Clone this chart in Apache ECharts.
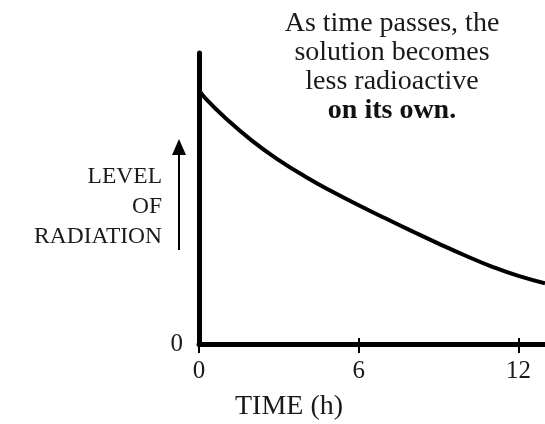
<!DOCTYPE html>
<html>
<head>
<meta charset="utf-8">
<script src="https://cdn.jsdelivr.net/npm/echarts@6/dist/echarts.min.js"></script>
<style>html,body{margin:0;padding:0;background:#fff}#c{width:545px;height:424px}</style>
</head>
<body>
<div id="c"></div>
<script>
// Time (h)
const times = [0, 0.25, 1, 2, 3, 4, 5, 6, 7, 8, 9, 10, 11, 12, 13];
// Level of radiation (arbitrary units, axis top = 100)
const levels = [87.3, 84.3, 77.6, 69.8, 63.2, 57.5, 52.4, 47.7, 43.2, 38.8, 34.5, 30.4, 26.6, 23.4, 20.9];
const xTicks = [0, 6, 12];
const yTicks = [0];
const noteLines = ['As time passes, the', 'solution becomes', 'less radioactive'];
const noteBold = 'on its own.';
const yLabelLines = ['LEVEL', 'OF', 'RADIATION'];
const xName = 'TIME (h)';

const FONT = '"Liberation Serif", "Times New Roman", serif';
const chart = echarts.init(document.getElementById('c'));
const pts = times.map((t, i) => [t, levels[i]]);

const noteText = noteLines.map(s => '{n|' + s + '}').join('\n') + '\n{b|' + noteBold + '}';

chart.setOption({
  animation: false,
  backgroundColor: '#fff',
  title: {
    text: noteText,
    left: 387,
    top: 4,
    textAlign: 'center',
    textStyle: {
      fontWeight: 'normal',
      rich: {
        n: { fontFamily: FONT, fontSize: 28, lineHeight: 29, color: '#1a1a1a', fontWeight: 'normal' },
        b: { fontFamily: FONT, fontSize: 28, lineHeight: 29, color: '#111', fontWeight: 'bold' }
      }
    }
  },
  grid: { left: 199, right: 0, top: 53, bottom: 80, containLabel: false },
  xAxis: [{
    type: 'value', min: 0, max: 13, interval: 6,
    axisLine: { show: true, lineStyle: { color: '#000', width: 5 } },
    axisTick: { show: true, inside: false, length: 9, customValues: xTicks, lineStyle: { color: '#000', width: 2 } },
    splitLine: { show: false },
    axisLabel: {
      margin: 15, fontFamily: FONT, fontSize: 25, color: '#1a1a1a',
      customValues: xTicks,
      formatter: v => String(v)
    }
  }, {
    type: 'value', min: 0, max: 13, interval: 6, position: 'bottom',
    axisLine: { show: false },
    axisTick: { show: true, inside: true, length: 6, customValues: xTicks, lineStyle: { color: '#000', width: 2 } },
    splitLine: { show: false },
    axisLabel: { show: false }
  }],
  yAxis: {
    type: 'value', min: 0, max: 100, interval: 100,
    axisLine: { show: true, lineStyle: { color: '#000', width: 5 } },
    axisTick: { show: false },
    splitLine: { show: false },
    axisLabel: {
      margin: 16, fontFamily: FONT, fontSize: 25, color: '#1a1a1a',
      customValues: yTicks,
      formatter: v => String(v)
    }
  },
  series: [{
    type: 'line',
    data: pts,
    smooth: 0.5,
    showSymbol: false,
    clip: false,
    lineStyle: { color: '#000', width: 4 }
  }],
  graphic: [
    {
      type: 'text', x: 162, y: 207,
      style: {
        text: yLabelLines.join('\n'),
        align: 'right', verticalAlign: 'middle',
        fontFamily: FONT, fontSize: 23.5, lineHeight: 30, fill: '#1a1a1a'
      }
    },
    {
      type: 'line',
      shape: { x1: 179, y1: 152, x2: 179, y2: 250 },
      style: { stroke: '#000', lineWidth: 2 }
    },
    {
      type: 'polygon',
      shape: { points: [[179, 139], [172, 155], [186, 155]] },
      style: { fill: '#000' }
    },
    {
      type: 'text', x: 289, y: 407,
      style: {
        text: xName, align: 'center', verticalAlign: 'middle',
        fontFamily: FONT, fontSize: 28, fill: '#1a1a1a'
      }
    }
  ]
});
</script>
</body>
</html>
